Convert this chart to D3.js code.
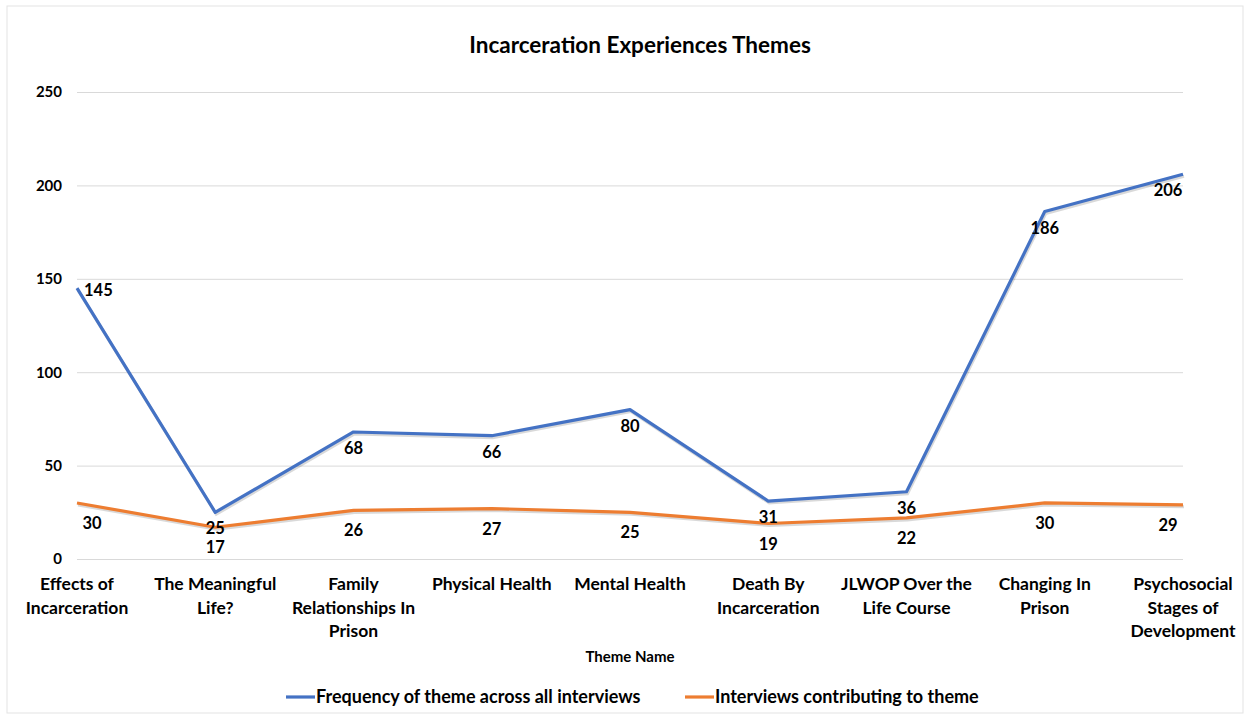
<!DOCTYPE html>
<html>
<head>
<meta charset="utf-8">
<script src="https://cdn.jsdelivr.net/npm/d3@7"></script>
<style>
    body { margin: 0; background: #fff; }
    svg { font-family: Lato, "Open Sans", sans-serif; font-weight: bold; }
</style>
</head>
<body>
<svg id="chart" width="1249" height="719"></svg>
<script>
// chart values
const themes = [
    ['Effects of', 'Incarceration'],
    ['The Meaningful', 'Life?'],
    ['Family', 'Relationships In', 'Prison'],
    ['Physical Health'],
    ['Mental Health'],
    ['Death By', 'Incarceration'],
    ['JLWOP Over the', 'Life Course'],
    ['Changing In', 'Prison'],
    ['Psychosocial', 'Stages of', 'Development']
];
const frequency = [145, 25, 68, 66, 80, 31, 36, 186, 206];
const interviews = [30, 17, 26, 27, 25, 19, 22, 30, 29];
const yTicks = [0, 50, 100, 150, 200, 250];
const seriesNames = ['Frequency of theme across all interviews', 'Interviews contributing to theme'];
const colors = ['#4472C4', '#ED7D31'];

const margin = {top: 92, right: 66, bottom: 160, left: 77};
const width = 1249, height = 719;

const svg = d3.select('#chart');

// outer frame
svg.append('rect')
    .attr('x', 7).attr('y', 6)
    .attr('width', width - 13).attr('height', height - 12)
    .attr('fill', '#fff')
    .attr('stroke', '#e3e3e3');

let x = d3.scalePoint()
    .domain(d3.range(themes.length))
    .range([margin.left, width - margin.right]);

let y = d3.scaleLinear()
    .domain([0, 250])
    .range([height - margin.bottom, margin.top]);

// title
svg.append('text')
    .attr('x', 640).attr('y', 53)
    .attr('text-anchor', 'middle')
    .style('font-size', '22.5px')
    .attr('fill', '#000')
    .text('Incarceration Experiences Themes');

// grid + y axis
let yAxis = d3.axisLeft(y)
    .tickValues(yTicks)
    .tickSize(-(width - margin.left - margin.right))
    .tickPadding(15);

let yg = svg.append('g')
    .attr('transform', 'translate(' + margin.left + ',0)')
    .call(yAxis);
yg.select('.domain').remove();
yg.selectAll('.tick line').attr('stroke', '#d9d9d9');
yg.selectAll('.tick text')
    .attr('fill', '#000')
    .style('font-size', '15px')
    .style('font-family', 'Lato, sans-serif')
    .style('font-weight', 'bold');

// x category labels
let xLabels = svg.append('g').selectAll('text')
    .data(themes)
    .enter().append('text')
    .attr('text-anchor', 'middle')
    .attr('x', (d, i) => x(i))
    .attr('y', 590)
    .style('font-size', '17.5px')
    .attr('fill', '#000');

xLabels.selectAll('tspan')
    .data(d => d)
    .enter().append('tspan')
    .attr('x', function () { return d3.select(this.parentNode).attr('x'); })
    .attr('dy', (d, i) => i === 0 ? 0 : 23.5)
    .text(d => d);

// axis title
svg.append('text')
    .attr('x', 630).attr('y', 662)
    .attr('text-anchor', 'middle')
    .style('font-size', '15px')
    .text('Theme Name');

// lines
let line = d3.line()
    .x((d, i) => x(i))
    .y(d => y(d));

[frequency, interviews].forEach((series, k) => {
    svg.append('path')
        .datum(series)
        .attr('d', line)
        .attr('fill', 'none')
        .attr('stroke', '#000')
        .attr('stroke-opacity', 0.15)
        .attr('stroke-width', 3)
        .attr('transform', 'translate(1,2)');
    svg.append('path')
        .datum(series)
        .attr('d', line)
        .attr('fill', 'none')
        .attr('stroke', colors[k])
        .attr('stroke-width', 3.2)
        .attr('stroke-linejoin', 'round');
});

// data labels, kept inside the plot area
function clampX(px) {
    let lo = margin.left + 15, hi = width - margin.right - 15;
    return Math.max(lo, Math.min(hi, px));
}

svg.append('g').selectAll('text')
    .data(frequency)
    .enter().append('text')
    .attr('x', (d, i) => i === 0 ? x(i) + 7 : clampX(x(i)))
    .attr('y', (d, i) => i === 0 ? y(d) + 8 : y(d) + 22)
    .attr('text-anchor', (d, i) => i === 0 ? 'start' : 'middle')
    .style('font-size', '16.5px')
    .text(d => d);

svg.append('g').selectAll('text')
    .data(interviews)
    .enter().append('text')
    .attr('x', (d, i) => clampX(x(i)))
    .attr('y', d => y(d) + 26)
    .attr('text-anchor', 'middle')
    .style('font-size', '16.5px')
    .text(d => d);

// legend
let legendX = [286, 685];
let legend = svg.append('g').selectAll('g')
    .data(seriesNames)
    .enter().append('g')
    .attr('transform', (d, i) => 'translate(' + legendX[i] + ',697)');

legend.append('line')
    .attr('x1', 0).attr('x2', 29)
    .attr('stroke', (d, i) => colors[i])
    .attr('stroke-width', 3.2);

legend.append('text')
    .attr('x', 30).attr('y', 6)
    .style('font-size', '18px')
    .text(d => d);
</script>
</body>
</html>
